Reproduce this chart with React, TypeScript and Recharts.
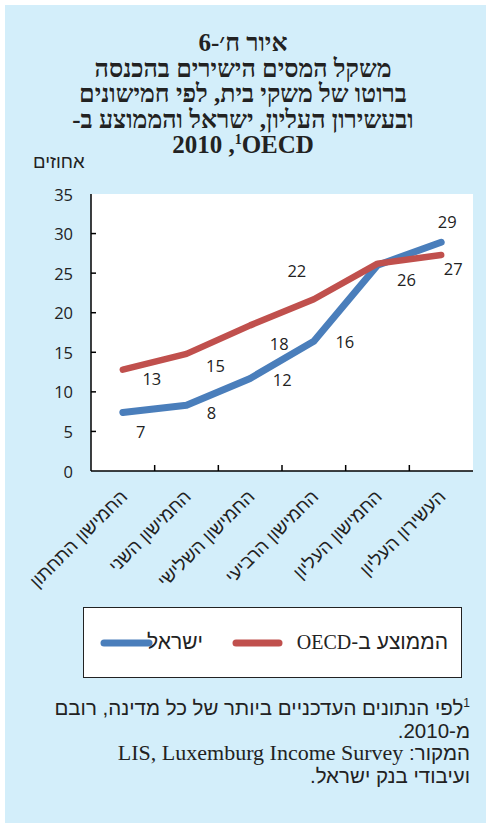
import React from "react";
import { LineChart, Line, XAxis, YAxis, CartesianGrid, LabelList } from "recharts";

// categories (quintiles + top decile)
const categories = [
  "החמישון התחתון",
  "החמישון השני",
  "החמישון השלישי",
  "החמישון הרביעי",
  "החמישון העליון",
  "העשירון העליון",
];

// percent of gross household income
const israel = [7.4, 8.3, 11.7, 16.4, 26.0, 28.9];
const oecd = [12.8, 14.8, 18.4, 21.7, 26.2, 27.3];

const yTicks = [0, 5, 10, 15, 20, 25, 30, 35];
// half values carry the category labels, whole values are the band separators
const xTicks = [0.5, 1, 1.5, 2, 2.5, 3, 3.5, 4, 4.5, 5, 5.5];

// where each value label sits relative to its point
const israelLabelOffset: (number[] | null)[] = [[18, 19], [25, 7], [32, 1], [31, 0], [29, 14], [6, -21]];
const oecdLabelOffset: (number[] | null)[] = [[29, 9], [29, 12], [29, 18], [-17, -29], null, [12, 14]];

const BLUE = "#4a7ebb";
const RED = "#c0504d";
const BG = "#d3eefa";
const SANS = "'Liberation Sans', Arial, sans-serif";
const SERIF = "'Liberation Serif', 'Times New Roman', serif";
const NUM = "'Open Sans', 'Liberation Sans', sans-serif";

const table = categories.map((name, i) => ({
  x: i + 0.5,
  name,
  israel: israel[i],
  oecd: oecd[i],
}));

function XTick(props: any) {
  const { x, y, payload } = props;
  const v = payload.value as number;
  if (Number.isInteger(v)) {
    if (v <= 0 || v >= 6) return null;
    return <line x1={x} x2={x} y1={y} y2={y - 6} stroke="#000" strokeWidth={1.5} />;
  }
  const label = categories[Math.floor(v)];
  const ax = x + 1;
  const ay = y + 22;
  return (
    <text
      x={ax}
      y={ay}
      transform={`rotate(-45 ${ax} ${ay})`}
      textAnchor="end"
      dominantBaseline="central"
      fontFamily={SANS}
      fontSize={18.5}
      fill="#222"
    >
      {label}
    </text>
  );
}

function YTick(props: any) {
  const { x, y, payload } = props;
  const v = payload.value as number;
  return (
    <g>
      <text x={x - 18} y={y} textAnchor="end" dominantBaseline="central" fontFamily={NUM} fontSize={16.5} fill="#222">
        {v}
      </text>
      {v > 0 && v < 35 && <line x1={x} x2={x + 5} y1={y} y2={y} stroke="#000" strokeWidth={1.5} />}
    </g>
  );
}

function makeLabel(offsets: (number[] | null)[]) {
  return (props: any) => {
    const { x, y, value, index } = props;
    const off = offsets[index];
    if (!off) return null;
    return (
      <text
        x={x + off[0]}
        y={y + off[1]}
        textAnchor="middle"
        dominantBaseline="central"
        fontFamily={NUM}
        fontSize={16.5}
        fill="#222"
      >
        {Math.round(value)}
      </text>
    );
  };
}

function Chart() {
  return (
    <LineChart width={486} height={600} data={table} margin={{ top: 194, right: 13, bottom: 0, left: 0 }}>
      <CartesianGrid fill="#fff" stroke="none" horizontal={false} vertical={false} />
      <XAxis
        dataKey="x"
        type="number"
        domain={[0, 6]}
        ticks={xTicks}
        interval={0}
        height={129}
        tickSize={0}
        tickMargin={0}
        tickLine={false}
        axisLine={{ stroke: "#000", strokeWidth: 1.5 }}
        tick={<XTick />}
        allowDataOverflow
      />
      <XAxis
        xAxisId="top"
        orientation="top"
        dataKey="x"
        type="number"
        domain={[0, 6]}
        height={0}
        tick={false}
        tickLine={false}
        axisLine={{ stroke: "#000", strokeWidth: 1.5 }}
      />
      <YAxis
        domain={[0, 35]}
        ticks={yTicks}
        interval={0}
        width={91}
        tickSize={0}
        tickMargin={0}
        tickLine={false}
        axisLine={{ stroke: "#000", strokeWidth: 1.5 }}
        tick={<YTick />}
      />
      <YAxis
        yAxisId="right"
        orientation="right"
        domain={[0, 35]}
        width={0}
        tick={false}
        tickLine={false}
        axisLine={{ stroke: "#000", strokeWidth: 1.5 }}
      />
      <Line
        dataKey="israel"
        stroke={BLUE}
        strokeWidth={7}
        strokeLinecap="round"
        strokeLinejoin="round"
        dot={false}
        isAnimationActive={false}
      >
        <LabelList dataKey="israel" content={makeLabel(israelLabelOffset)} />
      </Line>
      <Line
        dataKey="oecd"
        stroke={RED}
        strokeWidth={6.5}
        strokeLinecap="round"
        strokeLinejoin="round"
        dot={false}
        isAnimationActive={false}
      >
        <LabelList dataKey="oecd" content={makeLabel(oecdLabelOffset)} />
      </Line>
    </LineChart>
  );
}

export default function App() {
  return (
    <div style={{ position: "absolute", left: 0, top: 0, width: 486, height: 823, background: "#fff", overflow: "hidden" }}>
      <div style={{ position: "absolute", left: 5, top: 5, right: 0, bottom: 0, background: BG }} />

      <div
        style={{
          position: "absolute",
          left: 0,
          top: 30,
          width: 486,
          textAlign: "center",
          direction: "rtl",
          fontFamily: SERIF,
          fontWeight: "bold",
          fontSize: 25,
          lineHeight: "25.5px",
          color: "#222",
        }}
      >
        <div>איור ח׳-6</div>
        <div>משקל המסים הישירים בהכנסה</div>
        <div>ברוטו של משקי בית, לפי חמישונים</div>
        <div>ובעשירון העליון, ישראל והממוצע ב-</div>
        <div>
          <bdi>OECD</bdi>
          <sup style={{ fontSize: 14, lineHeight: 0 }}>1</sup>, <bdi>2010</bdi>
        </div>
      </div>

      <div
        style={{
          position: "absolute",
          left: 33,
          top: 151,
          direction: "rtl",
          fontFamily: SANS,
          fontSize: 18.5,
          lineHeight: "22px",
          color: "#222",
        }}
      >
        אחוזים
      </div>

      <div style={{ position: "absolute", left: 0, top: 0 }}>
        <Chart />
      </div>

      <div
        style={{
          position: "absolute",
          left: 83,
          top: 607,
          width: 377,
          height: 69,
          background: "#fff",
          border: "1.5px solid #222",
          fontFamily: SANS,
          fontSize: 21,
          color: "#222",
        }}
      >
        <span style={{ position: "absolute", right: 13, top: 22, lineHeight: "24px", direction: "rtl", whiteSpace: "nowrap" }}>
          הממוצע ב-<span style={{ fontFamily: SERIF, fontSize: 20 }}>OECD</span>
        </span>
        <svg width={51} height={10} style={{ position: "absolute", left: 148, top: 30 }}>
          <line x1={4} x2={47} y1={5} y2={5} stroke={RED} strokeWidth={7} strokeLinecap="round" />
        </svg>
        <span style={{ position: "absolute", right: 258, top: 22, lineHeight: "24px", direction: "rtl", whiteSpace: "nowrap" }}>
          ישראל
        </span>
        <svg width={53} height={10} style={{ position: "absolute", left: 16, top: 30 }}>
          <line x1={4} x2={49} y1={5} y2={5} stroke={BLUE} strokeWidth={7} strokeLinecap="round" />
        </svg>
      </div>

      <div
        style={{
          position: "absolute",
          right: 16,
          top: 697,
          width: 470,
          direction: "rtl",
          textAlign: "right",
          fontFamily: SANS,
          fontSize: 20.5,
          lineHeight: "22.5px",
          color: "#222",
          whiteSpace: "nowrap",
        }}
      >
        <div>
          <sup style={{ fontSize: 12, lineHeight: 0 }}>1</sup>לפי הנתונים העדכניים ביותר של כל מדינה, רובם
        </div>
        <div>מ-2010.</div>
        <div>
          המקור: <span style={{ fontFamily: SERIF, fontSize: 22 }}>LIS, Luxemburg Income Survey</span>
        </div>
        <div>ועיבודי בנק ישראל.</div>
      </div>
    </div>
  );
}
